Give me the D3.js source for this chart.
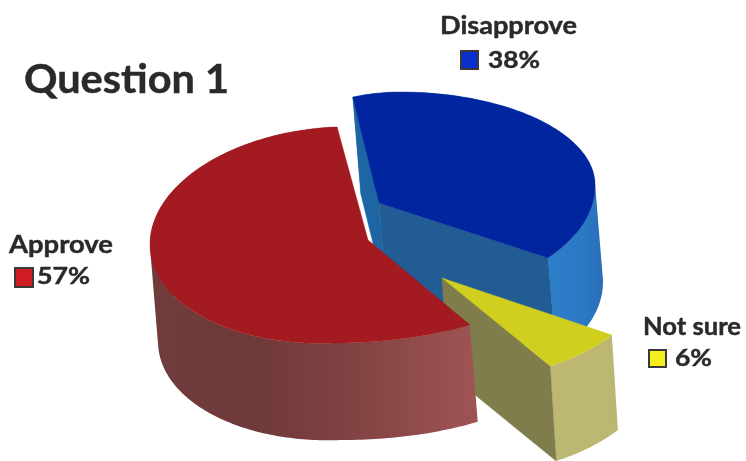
<!DOCTYPE html>
<html><head><meta charset="utf-8">
<script src="https://cdn.jsdelivr.net/npm/d3@7/dist/d3.min.js"></script>
<style>html,body{margin:0;padding:0;background:#fff}svg{display:block;filter:blur(0.45px)}
text{font-family:Lato,"Open Sans",sans-serif;font-weight:700;fill:#2a2a2a;stroke:#2a2a2a;stroke-width:.45px}</style></head><body>
<svg id="c" width="746" height="461"></svg>
<script>
const title = "Question 1";
const categories = ["Disapprove", "Not sure", "Approve"];
const values = [38, 6, 57];

const svg = d3.select("#c");
const defs = svg.append("defs");
const rad = d => d * Math.PI / 180;

// Layout only: how each exploded, perspective-distorted slice sits on the page.
const looks = {
  "Disapprove": { cx:400, cy:185, rxL:145, rxR:195, ryT:93, ryB:112, shear:0, t0:-109, t1:40.6, dx:8, dy:97,
    top:"#00259f", startFace:"#1e65a3", endFace:"#215c94",
    wall:[[548,"#2c7fca"],[585,"#2b78c3"],[604,"#2a6db8"]], apex:[379,203] },
  "Not sure": { cx:442, cy:278, rxL:203, rxR:203, ryT:104, ryB:104, shear:0, t0:33.2, t1:57.8, dx:6, dy:95,
    top:"#d0cf20", startFace:null, endFace:"#7f7d4c",
    wall:[[548,"#bdb974"],[620,"#bbb771"]], apex:[442,278] },
  "Approve": { cx:335, cy:236, rxL:185, rxR:241, ryT:109, ryB:107, shear:-0.045, t0:56, t1:270.5, dx:8, dy:97,
    top:"#a31a20", startFace:null, endFace:null,
    wall:[[150,"#703c3c"],[250,"#6e3939"],[340,"#7f4141"],[478,"#9f5454"]], apex:[368,240] }
};
const labelLooks = {
  "Disapprove": { nameX:440, nameY:34, nameW:137, valX:488, valY:68, valW:52, box:[461,51,17,18], fill:"#0b2fcf" },
  "Not sure":   { nameX:643, nameY:335, nameW:98, valX:675, valY:366, valW:37, box:[649,350,17,17], fill:"#f4ee1c" },
  "Approve":    { nameX:9, nameY:253, nameW:104, valX:37, valY:284, valW:53, box:[15,268,18,19], fill:"#cf1c22" }
};

const pie = d3.pie().sort(null).value(d => d.value).startAngle(0).endAngle(2 * Math.PI);
const arcs = pie(categories.map((name, i) => ({ name, value: values[i] })));
const line = d3.line();

function rimPoint(g, t) {
  const c = Math.cos(rad(t)), s = Math.sin(rad(t));
  const ox = (c >= 0 ? g.rxR : g.rxL) * c;
  const oy = (s >= 0 ? g.ryB : g.ryT) * s;
  return [g.cx + ox, g.cy + oy + (ox < 0 ? g.shear * ox : 0)];
}

function drawSlice(a, idx) {
  const g = looks[a.data.name];
  const toRim = d3.scaleLinear().domain([a.startAngle, a.endAngle]).range([g.t0, g.t1]);
  const n = Math.max(24, Math.round((a.endAngle - a.startAngle) / rad(1)));
  const rim = d3.range(n + 1).map(i => rimPoint(g, toRim(a.startAngle + (a.endAngle - a.startAngle) * i / n)));
  const drop = p => [p[0] + g.dx, p[1] + g.dy];
  const layer = svg.append("g").attr("class", "slice");

  // curved outer wall: quads wound the same way, filled as ONE path so no seams show
  const id = "wall" + idx;
  const x0 = g.wall[0][0], x1 = g.wall[g.wall.length - 1][0];
  const grad = defs.append("linearGradient").attr("id", id).attr("gradientUnits", "userSpaceOnUse")
    .attr("x1", x0).attr("x2", x1).attr("y1", 0).attr("y2", 0);
  g.wall.forEach(s => grad.append("stop").attr("offset", (s[0] - x0) / (x1 - x0)).attr("stop-color", s[1]));
  const wallPath = d3.range(n).map(i => {
    const p = rim[i], q = rim[i + 1];
    const quad = [p, q, drop(q), drop(p)];
    return line(d3.polygonArea(quad) < 0 ? quad.reverse() : quad) + "Z";
  }).join("");
  layer.append("path").attr("d", wallPath).attr("fill", `url(#${id})`).attr("fill-rule", "nonzero");

  // flat cut faces that can be seen
  const face = (p, col) => layer.append("path")
    .attr("d", line([g.apex, p, drop(p), drop(g.apex)]) + "Z")
    .attr("fill", col).attr("stroke", col).attr("stroke-width", .4);
  if (g.startFace) face(rim[0], g.startFace);
  if (g.endFace) face(rim[n], g.endFace);

  // top face
  layer.append("path")
    .attr("d", line([g.apex].concat(rim)) + "Z")
    .attr("fill", g.top).attr("stroke", g.top).attr("stroke-width", .4);
}

// painter's order: back slice, the yellow wedge, then red in front of it
arcs.forEach(drawSlice);

svg.append("text").attr("x", 24).attr("y", 93).attr("font-size", 41)
  .attr("textLength", 205).attr("lengthAdjust", "spacingAndGlyphs").text(title);

categories.forEach((name, i) => {
  const l = labelLooks[name];
  svg.append("text").attr("x", l.nameX).attr("y", l.nameY).attr("font-size", 25)
    .attr("textLength", l.nameW).attr("lengthAdjust", "spacingAndGlyphs").text(name);
  svg.append("rect").attr("x", l.box[0]).attr("y", l.box[1]).attr("width", l.box[2]).attr("height", l.box[3])
    .attr("fill", l.fill).attr("stroke", "#3a3a3a").attr("stroke-width", 2);
  svg.append("text").attr("x", l.valX).attr("y", l.valY).attr("font-size", 23)
    .attr("textLength", l.valW).attr("lengthAdjust", "spacingAndGlyphs").text(values[i] + "%");
});
</script></body></html>
